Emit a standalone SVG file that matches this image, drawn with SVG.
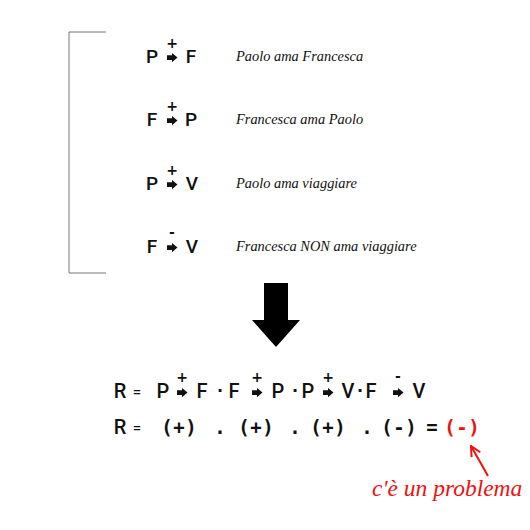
<svg xmlns="http://www.w3.org/2000/svg" width="530" height="530" viewBox="0 0 530 530">
<style>
.s{font-family:Roboto,"DejaVu Sans",sans-serif;font-weight:500;font-size:20px;fill:#111;text-anchor:middle}
.t{font-size:19px}
.op{font-family:"DejaVu Sans",sans-serif;font-weight:bold;font-size:14px;fill:#111;text-anchor:middle}
.it{font-family:"Liberation Serif",serif;font-style:italic;font-size:14.4px;fill:#111}
.m{font-family:"DejaVu Sans Mono",monospace;font-weight:bold;font-size:19px;fill:#111;text-anchor:middle}
.red{fill:#f01010}
.dot{font-family:"DejaVu Sans",sans-serif;font-weight:bold;font-size:16px;fill:#111;text-anchor:middle}
</style>
<defs>
<path id="ar" d="M0,2.3 H5 V0 L10.5,4.6 L5,9.2 V6.9 H0 Z" fill="#111"/>
<marker id="oh" viewBox="0 0 12 12" refX="11" refY="6" markerWidth="12" markerHeight="12" markerUnits="userSpaceOnUse" orient="auto">
<path d="M1,1 L11,6 L1,11" fill="none" stroke="#f01010" stroke-width="2"/>
</marker>
</defs>
<rect width="530" height="530" fill="#fff"/>
<path d="M106,32 H69 V273 H106" fill="none" stroke="#777" stroke-width="1"/>
<g id="r1">
<text class="s t" x="152" y="63">P</text><use href="#ar" x="167" y="53"/><text class="op" x="172" y="48">+</text><text class="s t" x="191" y="63">F</text>
<text class="it" x="236" y="61">Paolo ama Francesca</text>
</g>
<g id="r2">
<text class="s t" x="152" y="126">F</text><use href="#ar" x="167" y="116"/><text class="op" x="172" y="111">+</text><text class="s t" x="191" y="126">P</text>
<text class="it" x="236" y="124">Francesca ama Paolo</text>
</g>
<g id="r3">
<text class="s t" x="152" y="190">P</text><use href="#ar" x="167" y="180"/><text class="op" x="172" y="175">+</text><text class="s t" x="192" y="190">V</text>
<text class="it" x="236" y="188">Paolo ama viaggiare</text>
</g>
<g id="r4">
<text class="s t" x="152" y="253">F</text><use href="#ar" x="167" y="243"/><text class="op" x="172" y="237">-</text><text class="s t" x="192" y="253">V</text>
<text class="it" x="236" y="251">Francesca NON ama viaggiare</text>
</g>
<g id="eq1">
<text class="s" x="120" y="398">R</text><text class="s" x="137" y="397" style="font-size:15px">=</text>
<text class="s" x="163" y="398">P</text><use href="#ar" x="177" y="388"/><text class="op" x="182" y="382">+</text><text class="s" x="202" y="398">F</text>
<text class="dot" x="220" y="396">·</text>
<text class="s" x="234" y="398">F</text><use href="#ar" x="252" y="388"/><text class="op" x="257" y="382">+</text><text class="s" x="278" y="398">P</text>
<text class="dot" x="295" y="396">·</text>
<text class="s" x="308" y="398">P</text><use href="#ar" x="323" y="388"/><text class="op" x="328" y="382">+</text><text class="s" x="348" y="398">V</text>
<text class="dot" x="360" y="396">·</text>
<text class="s" x="371" y="398">F</text><use href="#ar" x="393" y="388"/><text class="op" x="398" y="381">-</text><text class="s" x="419" y="398">V</text>
</g>
<g id="eq2">
<text class="s" x="120" y="434">R</text><text class="s" x="137" y="433" style="font-size:15px">=</text>
<text class="m" x="167 179 191" y="434">(+)</text>
<text class="m" x="220" y="434">.</text>
<text class="m" x="244 256 268" y="434">(+)</text>
<text class="m" x="295" y="434">.</text>
<text class="m" x="316 328 340" y="434">(+)</text>
<text class="m" x="367" y="434">.</text>
<text class="m" x="387 399 411" y="434">(-)</text>
<text class="m" x="432" y="434">=</text>
</g>
<g id="res">
<text class="m red" x="450 462 474" y="434">(-)</text>
<text class="it red" x="372" y="496" style="font-size:23.5px">c'è un problema</text>
</g>
<g id="connectors">
<polygon points="264,283 288,283 288,320 300,320 276,347 252,320 264,320" fill="#000"/>
<line x1="488" y1="476" x2="471" y2="446" stroke="#f01010" stroke-width="2" marker-end="url(#oh)"/>
</g>
</svg>
